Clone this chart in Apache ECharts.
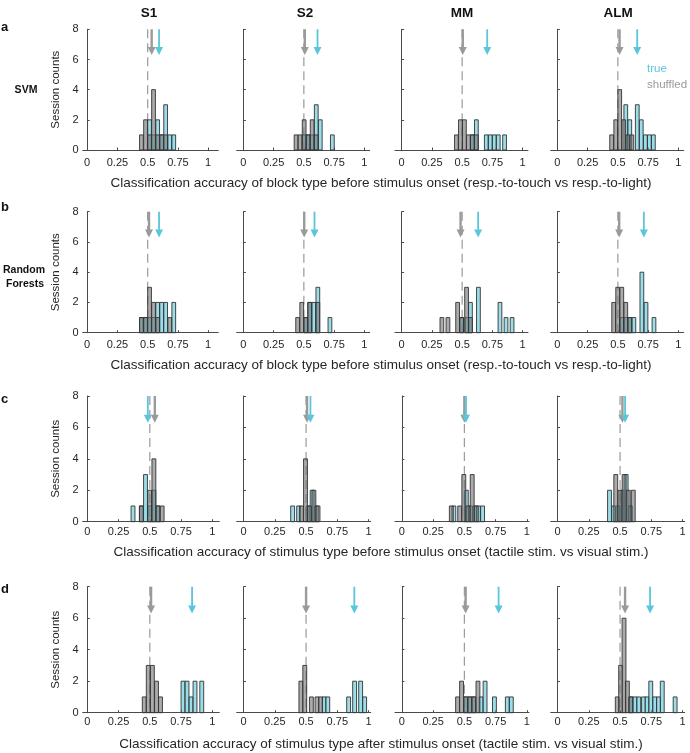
<!DOCTYPE html>
<html>
<head>
<meta charset="utf-8">
<script src="https://cdn.jsdelivr.net/npm/echarts@6/dist/echarts.min.js"></script>
<style>
html,body{margin:0;padding:0;background:#fff;}
#chart{width:690px;height:753px;}
</style>
</head>
<body>
<div id="chart"></div>
<script>
// ---------------- DATA ----------------
const areas = ['S1', 'S2', 'MM', 'ALM'];
const rowLetters = ['a', 'b', 'c', 'd'];
const xTickVals = [0, 0.25, 0.5, 0.75, 1];
const xTickText = ['0', '0.25', '0.5', '0.75', '1'];
const yTickVals = [0, 2, 4, 6, 8];
const chanceLevel = 0.5;
const xTitles = [
  'Classification accuracy of block type before stimulus onset (resp.-to-touch vs resp.-to-light)',
  'Classification accuracy of block type before stimulus onset (resp.-to-touch vs resp.-to-light)',
  'Classification accuracy of stimulus type before stimulus onset (tactile stim. vs visual stim.)',
  'Classification accuracy of stimulus type after stimulus onset (tactile stim. vs visual stim.)'
];
const legendTexts = ['true', 'shuffled'];

// histogram bins: [left edge, session count]
const a_S1_true  = [[0.5,2],[0.533,1],[0.567,2],[0.6,1],[0.633,3],[0.667,1],[0.7,1]];
const a_S1_shuf  = [[0.433,1],[0.467,2],[0.5,1],[0.533,4],[0.567,1],[0.6,1],[0.633,1]];
const a_S2_true  = [[0.487,1],[0.52,1],[0.553,1],[0.587,3],[0.62,2],[0.72,1]];
const a_S2_shuf  = [[0.42,1],[0.453,1],[0.487,2],[0.52,1],[0.553,2],[0.587,1]];
const a_MM_true  = [[0.569,1],[0.602,2],[0.684,1],[0.717,1],[0.75,1],[0.783,1],[0.835,1]];
const a_MM_shuf  = [[0.437,1],[0.47,2],[0.503,2],[0.536,1],[0.569,1],[0.602,1]];
const a_ALM_true = [[0.55,3],[0.583,2],[0.645,3],[0.678,2],[0.712,1],[0.745,1],[0.778,1]];
const a_ALM_shuf = [[0.433,1],[0.467,2],[0.5,4],[0.533,2],[0.567,1],[0.6,1]];

const b_S1_true  = [[0.433,1],[0.467,1],[0.5,1],[0.533,1],[0.567,2],[0.6,2],[0.633,2],[0.7,2]];
const b_S1_shuf  = [[0.433,1],[0.467,1],[0.5,3],[0.533,2],[0.567,1],[0.667,1]];
const b_S2_true  = [[0.5,1],[0.533,2],[0.567,2],[0.6,3],[0.7,1]];
const b_S2_shuf  = [[0.433,1],[0.467,2],[0.5,1],[0.533,2],[0.6,2]];
const b_MM_true  = [[0.48,1],[0.525,1],[0.553,2],[0.619,3],[0.797,2],[0.847,1],[0.897,1]];
const b_MM_shuf  = [[0.317,1],[0.367,1],[0.447,2],[0.48,1],[0.521,3],[0.553,1]];
const b_ALM_true = [[0.517,1],[0.55,1],[0.583,1],[0.617,1],[0.683,4],[0.717,2],[0.783,1]];
const b_ALM_shuf = [[0.45,2],[0.483,3],[0.517,3],[0.55,2],[0.583,1]];

const c_S1_true  = [[0.35,1],[0.417,1],[0.45,3],[0.483,1],[0.517,2],[0.55,1]];
const c_S1_shuf  = [[0.417,1],[0.483,2],[0.517,4],[0.55,1],[0.583,1]];
const c_S2_true  = [[0.377,1],[0.425,1],[0.5,1],[0.533,2],[0.567,1]];
const c_S2_shuf  = [[0.447,1],[0.48,4],[0.513,1],[0.547,2],[0.58,1]];
const c_MM_true  = [[0.4,1],[0.5,2],[0.533,1],[0.567,1],[0.597,1],[0.63,1]];
const c_MM_shuf  = [[0.38,1],[0.447,1],[0.48,3],[0.513,1],[0.547,3],[0.58,1]];
const c_ALM_true = [[0.4,2],[0.433,1],[0.467,1],[0.5,2],[0.533,3],[0.567,1]];
const c_ALM_shuf = [[0.45,3],[0.483,2],[0.517,3],[0.55,2],[0.59,2]];

const d_S1_true  = [[0.75,2],[0.782,2],[0.814,1],[0.846,2],[0.9,2]];
const d_S1_shuf  = [[0.44,1],[0.472,3],[0.505,3],[0.538,2],[0.57,1]];
const d_S2_true  = [[0.628,1],[0.658,1],[0.825,1],[0.873,2],[0.921,2],[0.953,1]];
const d_S2_shuf  = [[0.443,2],[0.474,3],[0.527,1],[0.572,1],[0.601,1]];
const d_MM_true  = [[0.495,1],[0.528,1],[0.56,1],[0.618,1],[0.65,2],[0.725,1],[0.828,1],[0.86,1]];
const d_MM_shuf  = [[0.43,1],[0.462,2],[0.495,1],[0.528,1],[0.56,1],[0.593,2]];
const d_ALM_true = [[0.572,1],[0.603,1],[0.634,1],[0.672,1],[0.7,1],[0.73,2],[0.762,1],[0.792,1],[0.822,2],[0.925,1]];
const d_ALM_shuf = [[0.462,1],[0.489,3],[0.516,6],[0.543,2],[0.57,1]];

// mean accuracy arrows (per area S1, S2, MM, ALM)
const a_trueMean = [0.594, 0.613, 0.707, 0.66];
const a_shufMean = [0.533, 0.508, 0.505, 0.514];
const b_trueMean = [0.594, 0.588, 0.632, 0.715];
const b_shufMean = [0.511, 0.503, 0.487, 0.511];
const c_trueMean = [0.484, 0.535, 0.513, 0.54];
const c_shufMean = [0.54, 0.508, 0.5, 0.519];
const d_trueMean = [0.838, 0.886, 0.774, 0.74];
const d_shufMean = [0.51, 0.5, 0.51, 0.54];

const BIN = 0.031;

// ---------------- ASSEMBLY ----------------
const trueData = [
  [a_S1_true, a_S2_true, a_MM_true, a_ALM_true],
  [b_S1_true, b_S2_true, b_MM_true, b_ALM_true],
  [c_S1_true, c_S2_true, c_MM_true, c_ALM_true],
  [d_S1_true, d_S2_true, d_MM_true, d_ALM_true]
];
const shufData = [
  [a_S1_shuf, a_S2_shuf, a_MM_shuf, a_ALM_shuf],
  [b_S1_shuf, b_S2_shuf, b_MM_shuf, b_ALM_shuf],
  [c_S1_shuf, c_S2_shuf, c_MM_shuf, c_ALM_shuf],
  [d_S1_shuf, d_S2_shuf, d_MM_shuf, d_ALM_shuf]
];
const trueMeans = [a_trueMean, b_trueMean, c_trueMean, d_trueMean];
const shufMeans = [a_shufMean, b_shufMean, c_shufMean, d_shufMean];

// layout (style)
const FONT = '"Liberation Sans", Arial, Helvetica, sans-serif';
const TXT = '#262626';
const AXIS = '#4a4a4a';
const CYAN = '#5ac6dc';
const GRAYA = '#9a9a9a';
const TRUE_FILL = 'rgba(89,199,219,0.6)';
const SHUF_FILL = 'rgba(115,115,115,0.6)';
const EDGE = '#333333';
const ROW_TOP = [29.3, 211.7, 396, 586.7];
const ROW_H = [120.7, 121, 125.7, 126];
const COL_LEFT = [82.7, 236.7, 395, 550.7];
const UNIT = [121, 121, 125, 125];
const XMIN = [-0.037, -0.055, -0.055, -0.055];
const WIDTH = [[135.6,133,133,133],[135.6,133,133,133],[136.6,134,134,134],[136.6,134,134,134]];
const LABEL_MARGIN = [7, 7, 4.5, 4];

const grids = [], xAxes = [], yAxes = [], series = [];

function barRender(fill) {
  return function (params, api) {
    const x0 = api.value(0), n = api.value(1);
    const p0 = api.coord([x0, 0]);
    const p1 = api.coord([x0 + BIN, n]);
    return {
      type: 'rect',
      shape: { x: p0[0], y: p1[1], width: p1[0] - p0[0], height: p0[1] - p1[1] },
      style: { fill: fill, stroke: EDGE, lineWidth: 0.9 }
    };
  };
}
function arrowRender(color, stemW) {
  return function (params, api) {
    const x = api.value(0);
    const top = api.coord([x, 8]);
    const tip = api.coord([x, 6.3]);
    const baseY = tip[1] - 8;
    return {
      type: 'group',
      children: [
        { type: 'line', shape: { x1: top[0], y1: top[1], x2: top[0], y2: baseY + 1 },
          style: { stroke: color, lineWidth: stemW } },
        { type: 'polygon', shape: { points: [[tip[0] - 4, baseY], [tip[0] + 4, baseY], [tip[0], tip[1]]] },
          style: { fill: color } }
      ]
    };
  };
}
function chanceRender(params, api) {
  const x = api.value(0);
  const p0 = api.coord([x, 8]);
  const p1 = api.coord([x, 0]);
  return { type: 'line', shape: { x1: p0[0], y1: p0[1], x2: p1[0], y2: p1[1] },
           style: { stroke: GRAYA, lineWidth: 1.2, lineDash: [9, 5] } };
}

let gi = 0;
for (let r = 0; r < 4; r++) {
  for (let c = 0; c < 4; c++) {
    const w = WIDTH[r][c];
    grids.push({ left: COL_LEFT[c], top: ROW_TOP[r], width: w, height: ROW_H[r] });
    xAxes.push({
      gridIndex: gi, type: 'value', min: XMIN[c], max: XMIN[c] + w / UNIT[r],
      axisLine: { show: true, onZero: false, lineStyle: { color: AXIS, width: 1 } },
      axisTick: { show: true, inside: true, length: 2.5, customValues: xTickVals, lineStyle: { color: AXIS } },
      axisLabel: { show: true, customValues: xTickVals, margin: LABEL_MARGIN[r],
        formatter: v => xTickText[xTickVals.indexOf(+v.toFixed(2))] ?? '',
        fontSize: 11, color: TXT, fontFamily: FONT },
      splitLine: { show: false }
    });
    yAxes.push({
      gridIndex: gi, type: 'value', min: 0, max: 8, interval: 2,
      axisLine: { show: true, lineStyle: { color: AXIS, width: 1 } },
      axisTick: { show: true, inside: true, length: 2.5, lineStyle: { color: AXIS } },
      axisLabel: { show: c === 0, margin: 4, fontSize: 11, color: TXT, fontFamily: FONT },
      splitLine: { show: false }
    });
    series.push({ type: 'custom', xAxisIndex: gi, yAxisIndex: gi, z: 1, silent: true,
      renderItem: chanceRender, data: [[chanceLevel]] });
    series.push({ type: 'custom', xAxisIndex: gi, yAxisIndex: gi, z: 2, silent: true,
      renderItem: barRender(TRUE_FILL), data: trueData[r][c] });
    series.push({ type: 'custom', xAxisIndex: gi, yAxisIndex: gi, z: 3, silent: true,
      renderItem: barRender(SHUF_FILL), data: shufData[r][c] });
    series.push({ type: 'custom', xAxisIndex: gi, yAxisIndex: gi, z: 4, silent: true,
      renderItem: arrowRender(GRAYA, 2.4), data: [[shufMeans[r][c]]] });
    series.push({ type: 'custom', xAxisIndex: gi, yAxisIndex: gi, z: 5, silent: true,
      renderItem: arrowRender(CYAN, 1.8), data: [[trueMeans[r][c]]] });
    gi++;
  }
}

// text graphics
const graphics = [];
const titleX = [149, 305, 462, 618];
areas.forEach((t, i) => graphics.push({ type: 'text', x: titleX[i], y: 13,
  style: { text: t, align: 'center', verticalAlign: 'middle', font: 'bold 13.5px ' + FONT, fill: '#111' } }));
const letterY = [27, 207, 399, 589];
rowLetters.forEach((t, i) => graphics.push({ type: 'text', x: 1, y: letterY[i],
  style: { text: t, align: 'left', verticalAlign: 'middle', font: 'bold 13px ' + FONT, fill: '#111' } }));
graphics.push({ type: 'text', x: 26, y: 90,
  style: { text: 'SVM', align: 'center', verticalAlign: 'middle', font: 'bold 10.5px ' + FONT, fill: '#111' } });
graphics.push({ type: 'text', x: 24, y: 270,
  style: { text: 'Random', align: 'center', verticalAlign: 'middle', font: 'bold 10.5px ' + FONT, fill: '#111' } });
graphics.push({ type: 'text', x: 25, y: 284,
  style: { text: 'Forests', align: 'center', verticalAlign: 'middle', font: 'bold 10.5px ' + FONT, fill: '#111' } });
for (let r = 0; r < 4; r++) {
  graphics.push({ type: 'text', x: 56, y: ROW_TOP[r] + ROW_H[r] / 2, rotation: Math.PI / 2,
    style: { text: 'Session counts', align: 'center', verticalAlign: 'middle', font: '11.5px ' + FONT, fill: TXT } });
}
const xTitleY = [183, 365.5, 552.5, 744];
xTitles.forEach((t, i) => graphics.push({ type: 'text', x: 381, y: xTitleY[i],
  style: { text: t, align: 'center', verticalAlign: 'middle', font: '13.5px ' + FONT, fill: TXT } }));
graphics.push({ type: 'text', x: 647, y: 69,
  style: { text: legendTexts[0], align: 'left', verticalAlign: 'middle', font: '11.5px ' + FONT, fill: CYAN } });
graphics.push({ type: 'text', x: 647, y: 85,
  style: { text: legendTexts[1], align: 'left', verticalAlign: 'middle', font: '11.5px ' + FONT, fill: GRAYA } });

const chart = echarts.init(document.getElementById('chart'), null, { renderer: 'canvas' });
chart.setOption({
  animation: false,
  backgroundColor: '#fff',
  textStyle: { fontFamily: FONT },
  grid: grids,
  xAxis: xAxes,
  yAxis: yAxes,
  series: series,
  graphic: { elements: graphics }
});
</script>
</body>
</html>
